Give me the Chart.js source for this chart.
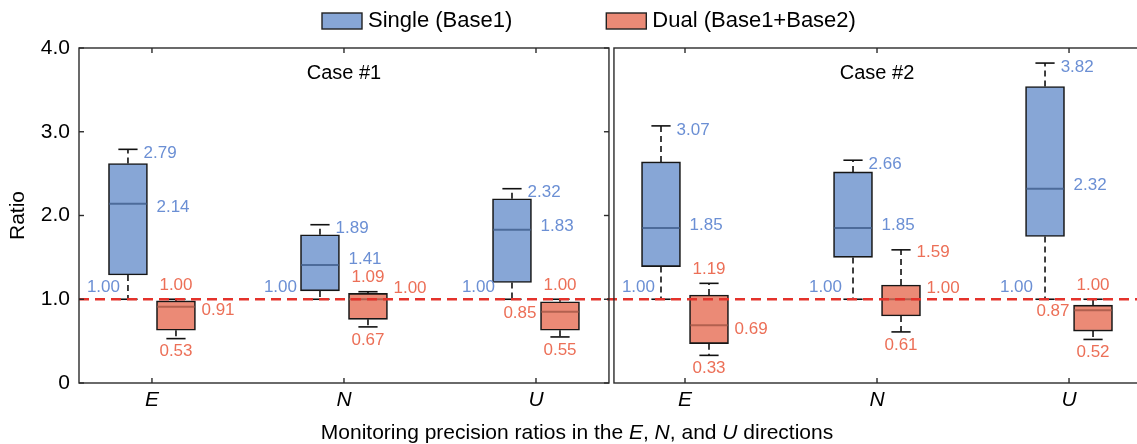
<!DOCTYPE html>
<html>
<head>
<meta charset="utf-8">
<script src="https://cdn.jsdelivr.net/npm/chart.js@4.4.1/dist/chart.umd.min.js"></script>
<style>
  html, body { margin: 0; padding: 0; background: #fff; }
  canvas { display: block; }
</style>
</head>
<body>
<canvas id="ratioChart" width="1137" height="444"></canvas>
<script>
const categories = ["E", "N", "U"];
const caseNames = ["Case #1", "Case #2"];
const yTicks = [0, 1, 2, 3, 4];
const baseline = 1.0;

// five-number summaries, Case #1 E N U then Case #2 E N U
const singleMin = [1.00, 1.00, 1.00, 1.00, 1.00, 1.00];
const singleQ1 = [1.29, 1.10, 1.20, 1.39, 1.50, 1.75];
const singleMedian = [2.14, 1.41, 1.83, 1.85, 1.85, 2.32];
const singleQ3 = [2.62, 1.77, 2.20, 2.64, 2.52, 3.54];
const singleMax = [2.79, 1.89, 2.32, 3.07, 2.66, 3.82];

const dualMin = [0.53, 0.67, 0.55, 0.33, 0.61, 0.52];
const dualQ1 = [0.63, 0.76, 0.63, 0.47, 0.80, 0.62];
const dualMedian = [0.91, 1.00, 0.85, 0.69, 1.00, 0.87];
const dualQ3 = [0.98, 1.07, 0.97, 1.05, 1.17, 0.93];
const dualMax = [1.00, 1.09, 1.00, 1.19, 1.59, 1.00];

// layout of the two panels on one linear x axis
const panelStart = [1, 3.776];
const panelEdges = [[0.62, 3.38], [3.406, 6.3]];
const boxShift = 0.125;
const capHalf = 0.05;

// where the value labels go around each box (pixel nudges)
const singleMinDx = [-8, -23, -17, -6, -11, -12];
const singleMedianDy = [4, -6, -3, -3, -3, -3];
const dualMedianSide = ["right", "upright", "left", "right", "upright", "left"];
const dualMaxSide = ["above", "above", "above", "above", "right", "above"];

const FONT = '"Liberation Sans", Arial, Helvetica, sans-serif';
const BLUE = "#87a6d6", BLUE_DARK = "#4d6b9a", BLUE_TEXT = "#6b8fd4";
const RED = "#eb8a76", RED_DARK = "#b2604f", RED_TEXT = "#ec6f57";

const centers = caseNames.flatMap((c, k) => categories.map((_, i) => panelStart[k] + i));
const tickValues = centers.slice();

const series = [
  { label: "Single (Base1)", min: singleMin, q1: singleQ1, med: singleMedian, q3: singleQ3, max: singleMax,
    fill: BLUE, dark: BLUE_DARK, text: BLUE_TEXT, shift: -boxShift },
  { label: "Dual (Base1+Base2)", min: dualMin, q1: dualQ1, med: dualMedian, q3: dualQ3, max: dualMax,
    fill: RED, dark: RED_DARK, text: RED_TEXT, shift: boxShift }
];

function seg(ctx, x1, y1, x2, y2) {
  ctx.beginPath();
  ctx.moveTo(x1, y1);
  ctx.lineTo(x2, y2);
  ctx.stroke();
}

function label(ctx, txt, x, y, align, color) {
  ctx.fillStyle = color;
  ctx.textAlign = align;
  ctx.textBaseline = "middle";
  ctx.fillText(txt, x, y);
}

const boxPlugin = {
  id: "boxDetails",
  afterDatasetsDraw(chart) {
    const { ctx, scales: { x, y }, chartArea } = chart;
    const py = v => y.getPixelForValue(v);
    ctx.save();

    // whiskers, caps and medians on top of the boxes
    series.forEach((s, d) => {
      chart.getDatasetMeta(d).data.forEach((bar, i) => {
        const cx = bar.x;
        const half = bar.width / 2;
        const cw = x.getPixelForValue(centers[i] + capHalf) - x.getPixelForValue(centers[i]);
        ctx.strokeStyle = "#111";
        ctx.lineWidth = 1.6;
        ctx.setLineDash([6, 4]);
        seg(ctx, cx, py(s.q3[i]), cx, py(s.max[i]));
        seg(ctx, cx, py(s.q1[i]), cx, py(s.min[i]));
        ctx.setLineDash([]);
        seg(ctx, cx - cw, py(s.max[i]), cx + cw, py(s.max[i]));
        seg(ctx, cx - cw, py(s.min[i]), cx + cw, py(s.min[i]));
        ctx.strokeStyle = s.dark;
        ctx.lineWidth = 2;
        seg(ctx, cx - half + 1, py(s.med[i]), cx + half - 1, py(s.med[i]));
      });
    });

    // reference ratio of 1
    ctx.strokeStyle = "#e4322b";
    ctx.lineWidth = 2.5;
    ctx.setLineDash([10, 6]);
    seg(ctx, chartArea.left, py(baseline), chartArea.right, py(baseline));
    ctx.setLineDash([]);

    // value labels
    ctx.font = "17px " + FONT;
    series.forEach((s, d) => {
      chart.getDatasetMeta(d).data.forEach((bar, i) => {
        const cx = bar.x;
        const half = bar.width / 2;
        const cw = x.getPixelForValue(centers[i] + capHalf) - x.getPixelForValue(centers[i]);
        const f = v => v.toFixed(2);
        if (d === 0) {
          label(ctx, f(s.max[i]), cx + cw + 6, py(s.max[i]) + 4, "left", s.text);
          label(ctx, f(s.med[i]), cx + half + 9, py(s.med[i]) + singleMedianDy[i], "left", s.text);
          label(ctx, f(s.min[i]), cx + singleMinDx[i], py(s.min[i]) - 12, "right", s.text);
        } else {
          if (dualMaxSide[i] === "right") {
            label(ctx, f(s.max[i]), cx + cw + 6, py(s.max[i]) + 2, "left", s.text);
          } else {
            label(ctx, f(s.max[i]), cx, py(s.max[i]) - 14, "center", s.text);
          }
          const side = dualMedianSide[i];
          if (side === "left") {
            label(ctx, f(s.med[i]), cx - half - 4, py(s.med[i]) + 1, "right", s.text);
          } else if (side === "upright") {
            label(ctx, f(s.med[i]), cx + half + 6, py(s.med[i]) - 11, "left", s.text);
          } else {
            label(ctx, f(s.med[i]), cx + half + 6, py(s.med[i]) + 4, "left", s.text);
          }
          label(ctx, f(s.min[i]), cx, py(s.min[i]) + 13, "center", s.text);
        }
      });
    });
    ctx.restore();
  },

  afterDraw(chart) {
    const { ctx, scales: { x, y }, chartArea } = chart;
    ctx.save();

    // panel frames with inward ticks
    ctx.strokeStyle = "#2b2b2b";
    ctx.lineWidth = 1.4;
    panelEdges.forEach((edge, k) => {
      const left = k === 0 ? chartArea.left : x.getPixelForValue(edge[0]);
      const right = k === 0 ? x.getPixelForValue(edge[1]) : chartArea.right + 10;
      ctx.strokeRect(left, chartArea.top, right - left, chartArea.bottom - chartArea.top);
      categories.forEach((_, i) => {
        const tx = x.getPixelForValue(panelStart[k] + i);
        seg(ctx, tx, chartArea.top, tx, chartArea.top + 5);
        seg(ctx, tx, chartArea.bottom, tx, chartArea.bottom - 5);
      });
      if (k === 0) {
        yTicks.forEach(v => {
          const ty = y.getPixelForValue(v);
          seg(ctx, left, ty, left + 5, ty);
          seg(ctx, right, ty, right - 5, ty);
        });
      }
    });

    // panel titles
    ctx.font = "20px " + FONT;
    caseNames.forEach((name, k) => {
      label(ctx, name, x.getPixelForValue(panelStart[k] + 1), chartArea.top + 25, "center", "#000");
    });

    // legend
    ctx.font = "22px " + FONT;
    let lx = 322;
    series.forEach(s => {
      ctx.fillStyle = s.fill;
      ctx.fillRect(lx, 13, 40, 16);
      ctx.strokeStyle = "#222";
      ctx.lineWidth = 1.4;
      ctx.strokeRect(lx, 13, 40, 16);
      label(ctx, s.label, lx + 46, 21, "left", "#000");
      lx += 46 + ctx.measureText(s.label).width + 94;
    });

    // axis title with italic direction letters
    const parts = [
      ["Monitoring precision ratios in the ", false], ["E", true], [", ", false],
      ["N", true], [", and ", false], ["U", true], [" directions", false]
    ];
    const fontOf = it => (it ? "italic " : "") + "21px " + FONT;
    let total = 0;
    parts.forEach(([t, it]) => { ctx.font = fontOf(it); total += ctx.measureText(t).width; });
    let tx = 577 - total / 2;
    ctx.fillStyle = "#000";
    ctx.textAlign = "left";
    ctx.textBaseline = "middle";
    parts.forEach(([t, it]) => {
      ctx.font = fontOf(it);
      ctx.fillText(t, tx, 433);
      tx += ctx.measureText(t).width;
    });
    ctx.restore();
  }
};

new Chart(document.getElementById("ratioChart"), {
  type: "bar",
  data: {
    datasets: series.map(s => ({
      label: s.label,
      data: centers.map((c, i) => ({ x: c + s.shift, y: [s.q1[i], s.q3[i]] })),
      backgroundColor: s.fill,
      borderColor: "#161616",
      borderWidth: 1.6,
      borderSkipped: false,
      barThickness: 39,
      grouped: false
    }))
  },
  options: {
    responsive: false,
    animation: false,
    devicePixelRatio: 1,
    layout: { padding: { top: 48, left: 0, right: 0, bottom: 0 } },
    plugins: { legend: { display: false }, tooltip: { enabled: false } },
    scales: {
      x: {
        type: "linear",
        offset: false,
        min: 0.62,
        max: 6.13,
        afterBuildTicks: s => { s.ticks = tickValues.map(v => ({ value: v })); },
        afterFit: s => { s.height = 61; },
        ticks: {
          autoSkip: false,
          maxRotation: 0,
          padding: 5,
          color: "#000",
          font: { family: FONT, size: 21, style: "italic" },
          callback: (v, i) => categories[i % categories.length]
        },
        grid: { display: false, drawTicks: false, offset: false },
        border: { display: false }
      },
      y: {
        min: 0,
        max: 4,
        afterBuildTicks: s => { s.ticks = yTicks.map(v => ({ value: v })); },
        afterFit: s => { s.width = 79; },
        ticks: {
          padding: 9,
          color: "#000",
          font: { family: FONT, size: 21 },
          callback: v => (v === 0 ? "0" : v.toFixed(1))
        },
        title: {
          display: true,
          text: "Ratio",
          color: "#000",
          font: { family: FONT, size: 21 },
          padding: { top: 6, bottom: 0 }
        },
        grid: { display: false, drawTicks: false },
        border: { display: false }
      }
    }
  },
  plugins: [boxPlugin]
});
</script>
</body>
</html>
